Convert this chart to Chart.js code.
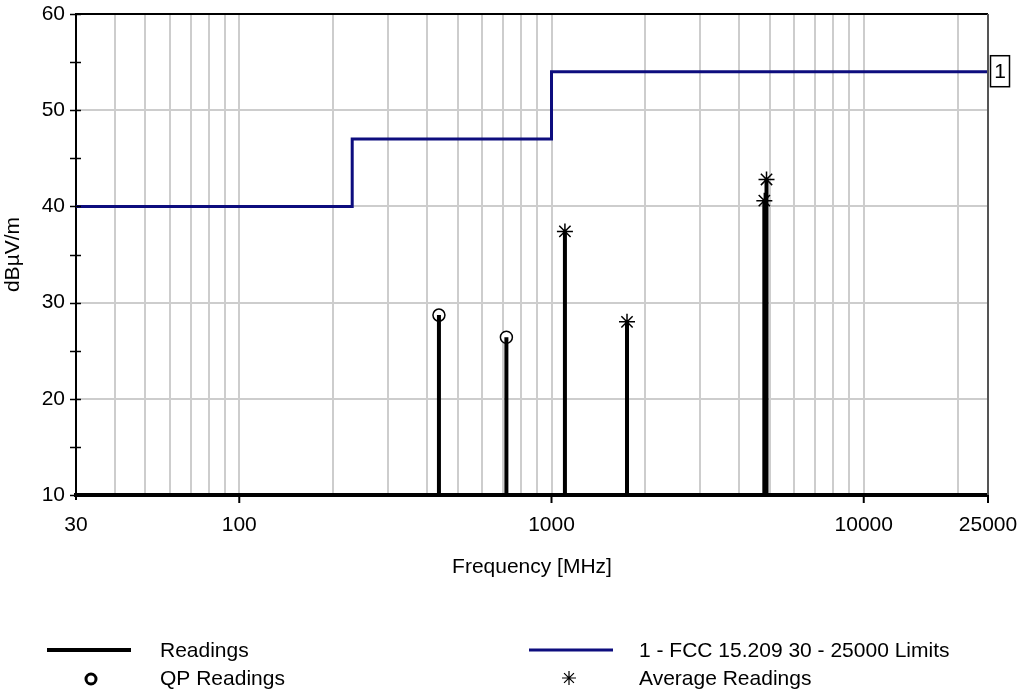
<!DOCTYPE html>
<html>
<head>
<meta charset="utf-8">
<title>Readings vs FCC 15.209 limit</title>
<script src="https://cdn.jsdelivr.net/npm/chart.js@4.4.1/dist/chart.umd.min.js"></script>
<style>
  html, body { margin: 0; padding: 0; background: #fff; }
  canvas { display: block; }
</style>
</head>
<body>
<canvas id="emc" width="1022" height="692"></canvas>
<script>
// limit line (stepped), QP / average readings
const limitFreq = [30, 230, 1000, 25000];
const limitLevel = [40, 47, 54, 54];
const qpFreq = [436, 717];
const qpLevel = [28.7, 26.4];
const avgFreq = [1104, 1745, 4804, 4882];
const avgLevel = [37.4, 28.0, 40.6, 42.8];
const floorLevel = 10;

const xTickValues = [30, 40, 50, 60, 70, 80, 90, 100, 200, 300, 400, 500, 600, 700, 800, 900,
  1000, 2000, 3000, 4000, 5000, 6000, 7000, 8000, 9000, 10000, 20000, 25000];
const xTickLabels = ['30', '100', '1000', '10000', '25000'];
const xMajorTicks = [100, 1000, 10000, 25000];
const yMinorTicks = [10, 15, 20, 25, 30, 35, 40, 45, 50, 55, 60];

const NAVY = '#0d0d7e';
const GRID = '#cdcdcd';
const FONT = { family: "'Liberation Sans', Arial, sans-serif", size: 21 };
const FONT_CSS = "21px 'Liberation Sans', Arial, sans-serif";

const pts = (xs, ys) => xs.map((x, i) => ({ x, y: ys[i] }));

// each reading is a vertical stick from the floor up to its level
const readings = [];
pts(qpFreq.concat(avgFreq), qpLevel.concat(avgLevel)).forEach(p => {
  readings.push({ x: p.x, y: floorLevel }, { x: p.x, y: p.y }, { x: p.x, y: null });
});

const edgeGrid = (edges) => c => (c.tick && edges.includes(c.tick.value)) ? 'rgba(0,0,0,0)' : GRID;
// keep the plot box exactly where the layout padding puts it
const noScalePadding = s => { s.paddingLeft = 0; s.paddingRight = 0; s.paddingTop = 0; s.paddingBottom = 0; };

const decorations = {
  id: 'decorations',
  afterDraw(chart) {
    const { ctx, chartArea: a, scales: { x, y } } = chart;
    ctx.save();
    ctx.strokeStyle = '#000';
    // top + right frame
    ctx.lineWidth = 2;
    ctx.beginPath(); ctx.moveTo(a.left, a.top); ctx.lineTo(a.right, a.top); ctx.stroke();
    ctx.strokeStyle = '#555';
    ctx.beginPath(); ctx.moveTo(a.right, a.top); ctx.lineTo(a.right, a.bottom); ctx.stroke();
    // y tick marks cross the axis
    ctx.strokeStyle = '#000';
    ctx.lineWidth = 1.5;
    yMinorTicks.forEach(v => {
      const py = Math.round(y.getPixelForValue(v)) + 0.5;
      ctx.beginPath(); ctx.moveTo(a.left - 6, py); ctx.lineTo(a.left + 5, py); ctx.stroke();
    });
    // x major tick marks below the axis
    ctx.lineWidth = 2;
    xMajorTicks.forEach(v => {
      const px = x.getPixelForValue(v);
      ctx.beginPath(); ctx.moveTo(px, a.bottom); ctx.lineTo(px, a.bottom + 8); ctx.stroke();
    });
    ctx.beginPath(); ctx.moveTo(a.left, a.bottom); ctx.lineTo(a.left, a.bottom + 5); ctx.stroke();

    // limit tag "1" at the end of the limit line
    const ly = y.getPixelForValue(limitLevel[limitLevel.length - 1]);
    const bx = a.right + 2;
    ctx.lineWidth = 1.5;
    ctx.fillStyle = '#fff';
    ctx.fillRect(bx, ly - 16, 19, 31);
    ctx.strokeRect(bx + 0.5, ly - 16, 19, 31);
    ctx.fillStyle = '#000';
    ctx.font = FONT_CSS;
    ctx.textAlign = 'center';
    ctx.textBaseline = 'middle';
    ctx.fillText('1', bx + 10, ly);

    // legend
    ctx.textAlign = 'left';
    ctx.lineWidth = 4;
    ctx.strokeStyle = '#000';
    ctx.beginPath(); ctx.moveTo(47, 650); ctx.lineTo(131, 650); ctx.stroke();
    ctx.fillText('Readings', 160, 651);
    ctx.lineWidth = 3;
    ctx.strokeStyle = NAVY;
    ctx.beginPath(); ctx.moveTo(529, 650); ctx.lineTo(613, 650); ctx.stroke();
    ctx.fillText('1 - FCC 15.209 30 - 25000 Limits', 639, 651);
    ctx.fillText('QP Readings', 160, 679);
    ctx.fillText('Average Readings', 639, 679);
    ctx.strokeStyle = '#000';
    ctx.fillStyle = '#fff';
    Chart.helpers.drawPoint(ctx, { pointStyle: 'circle', radius: 5, borderWidth: 1.5 }, 91, 679);
    ctx.lineWidth = 1.2;
    Chart.helpers.drawPoint(ctx, { pointStyle: 'star', radius: 7, borderWidth: 1.2 }, 569, 678);
    ctx.restore();
  }
};

new Chart(document.getElementById('emc'), {
  type: 'line',
  data: {
    datasets: [
      { label: '1 - FCC 15.209 30 - 25000 Limits', data: pts(limitFreq, limitLevel), stepped: 'before',
        borderColor: NAVY, borderWidth: 3, pointRadius: 0, fill: false },
      { label: 'Readings', data: readings, borderColor: '#000', borderWidth: 4, pointRadius: 0,
        spanGaps: false, borderCapStyle: 'butt' },
      { label: 'QP Readings', data: pts(qpFreq, qpLevel), showLine: false, pointStyle: 'circle',
        pointRadius: 6, pointBackgroundColor: '#fff', pointBorderColor: '#000', pointBorderWidth: 1.5 },
      { label: 'Average Readings', data: pts(avgFreq, avgLevel), showLine: false, pointStyle: 'star',
        pointRadius: 8, pointBorderColor: '#000', pointBorderWidth: 1.5 },
    ],
  },
  options: {
    responsive: false,
    animation: false,
    events: [],
    layout: { padding: { left: 0, top: 14, right: 34, bottom: 0 } },
    plugins: { legend: { display: false }, tooltip: { enabled: false } },
    scales: {
      x: {
        type: 'logarithmic', min: 30, max: 25000,
        afterBuildTicks: s => { s.ticks = xTickValues.map(v => ({ value: v })); },
        afterFit: s => { s.height = 197; noScalePadding(s); },
        ticks: {
          autoSkip: false, maxRotation: 0, minRotation: 0, padding: 18, color: '#000', font: FONT,
          callback: v => xTickLabels.includes(String(v)) ? String(v) : '',
        },
        grid: { color: edgeGrid([30, 25000]), lineWidth: 2, drawTicks: false },
        border: { color: '#000', width: 4 },
        title: { display: true, text: 'Frequency [MHz]', color: '#000', font: FONT, padding: { top: 0, bottom: 112 } },
      },
      y: {
        min: 10, max: 60,
        afterFit: s => { s.width = 76; noScalePadding(s); },
        ticks: { stepSize: 10, padding: 11, color: '#000', font: FONT },
        grid: { color: edgeGrid([10, 60]), lineWidth: 2, drawTicks: false },
        border: { color: '#000', width: 2 },
        title: { display: true, text: 'dBµV/m', color: '#000', font: FONT, padding: { top: 1, bottom: 0 } },
      },
    },
  },
  plugins: [decorations],
});
</script>
</body>
</html>
